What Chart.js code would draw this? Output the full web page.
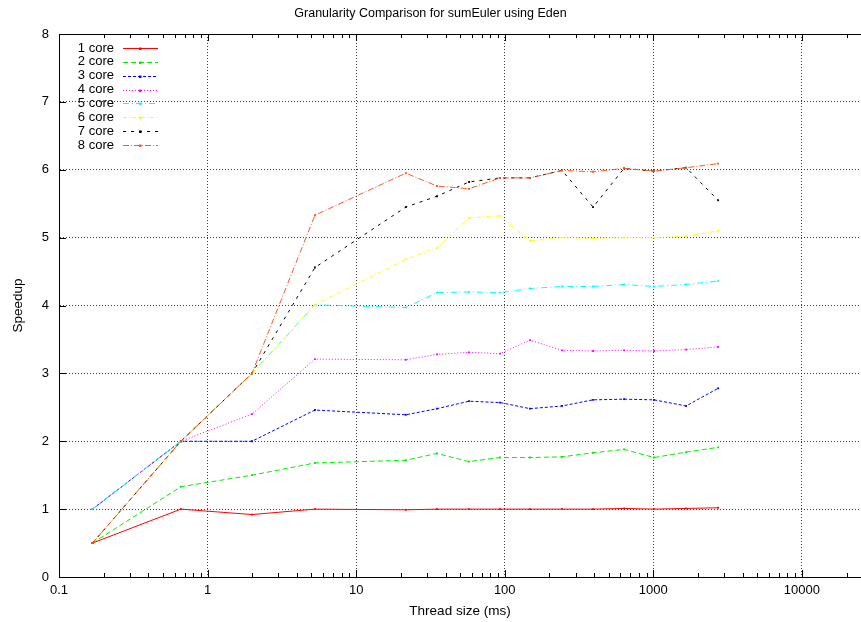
<!DOCTYPE html>
<html><head><meta charset="utf-8">
<script src="https://cdn.jsdelivr.net/npm/chart.js@4/dist/chart.umd.min.js"></script>
<style>html,body{margin:0;padding:0;background:#fff;overflow:hidden}#wrap{width:861px;height:622px;position:relative}</style>
</head><body><div id="wrap"><canvas id="c" width="861" height="622"></canvas></div>
<script>
// ---- data ----
const threadSizes = [0.168, 0.661, 1.99, 5.28, 21.6, 35.0, 57.5, 93.0, 148, 243, 393, 636, 1012, 1663, 2731];
const core1 = [0.50, 1.00, 0.92, 1.00, 0.99, 1.00, 1.00, 1.00, 1.00, 1.00, 1.00, 1.01, 1.00, 1.01, 1.02];
const core2 = [0.50, 1.33, 1.50, 1.68, 1.72, 1.82, 1.70, 1.76, 1.76, 1.77, 1.83, 1.88, 1.76, 1.84, 1.91];
const core3 = [1.00, 2.00, 2.00, 2.46, 2.39, 2.48, 2.59, 2.57, 2.48, 2.52, 2.61, 2.62, 2.61, 2.52, 2.78];
const core4 = [1.00, 2.00, 2.40, 3.21, 3.20, 3.28, 3.31, 3.29, 3.49, 3.34, 3.33, 3.34, 3.33, 3.35, 3.39];
const core5 = [1.00, 2.00, 3.00, 4.01, 3.97, 4.19, 4.20, 4.19, 4.25, 4.28, 4.28, 4.31, 4.28, 4.31, 4.36];
const core6 = [0.50, 2.00, 3.00, 4.01, 4.68, 4.85, 5.29, 5.32, 4.95, 5.00, 4.99, 5.00, 5.00, 5.02, 5.10];
const core7 = [0.50, 2.00, 3.00, 4.56, 5.45, 5.61, 5.82, 5.88, 5.88, 5.99, 5.45, 6.02, 5.98, 6.03, 5.55];
const core8 = [0.50, 2.00, 3.00, 5.33, 5.95, 5.76, 5.72, 5.88, 5.88, 5.99, 5.97, 6.02, 5.98, 6.03, 6.09];
const seriesLabels = ['1 core', '2 core', '3 core', '4 core', '5 core', '6 core', '7 core', '8 core'];
const xTickValues = [0.1, 1, 10, 100, 1000, 10000];
const yTickValues = [0, 1, 2, 3, 4, 5, 6, 7, 8];
const titleText = 'Granularity Comparison for sumEuler using Eden';
const xTitle = 'Thread size (ms)';
const yTitle = 'Speedup';

// ---- styles ----
const seriesValues = [core1, core2, core3, core4, core5, core6, core7, core8];
const colors = ['#ff0000', '#00ee00', '#0000ff', '#ff00ff', '#00ffff', '#ffff00', '#000000', '#ff5522'];
const dashes = [[], [5, 3], [3, 2], [1, 2], [6, 3, 1, 3], [4, 2, 1, 2], [3, 5], [6, 2, 1, 2]];
const FONT = 'Liberation Sans, Arial, sans-serif';

const datasets = seriesValues.map((vals, i) => ({
  label: seriesLabels[i],
  data: vals.map((v, j) => ({x: threadSizes[j], y: v})),
  order: seriesValues.length - 1 - i,
  borderColor: colors[i],
  backgroundColor: colors[i],
  borderWidth: 1,
  borderDash: dashes[i],
  pointStyle: 'rect',
  pointRadius: 1.3,
  pointBorderWidth: 0,
  pointBackgroundColor: colors[i],
  tension: 0,
  fill: false
}));

const decorPlugin = {
  id: 'decor',
  afterDraw(chart) {
    const {ctx, chartArea: a, scales: {x, y}} = chart;
    ctx.save();
    ctx.strokeStyle = '#000';
    ctx.lineWidth = 1;
    ctx.setLineDash([]);
    // top border
    ctx.beginPath();
    ctx.moveTo(a.left, Math.round(a.top) + 0.5);
    ctx.lineTo(a.right, Math.round(a.top) + 0.5);
    ctx.stroke();
    // x ticks (inward, bottom and top)
    ctx.beginPath();
    for (let d = 0.1; d <= 100000; d *= 10) {
      for (let m = 1; m <= 9; m++) {
        const v = d * m;
        if (v < x.min * 0.999 || v > x.max) continue;
        const px = Math.round(x.getPixelForValue(v)) + 0.5;
        const len = m === 1 ? 7 : 4;
        ctx.moveTo(px, a.bottom); ctx.lineTo(px, a.bottom - len);
        ctx.moveTo(px, a.top); ctx.lineTo(px, a.top + len);
      }
    }
    // y ticks
    yTickValues.forEach(v => {
      const py = Math.round(y.getPixelForValue(v)) + 0.5;
      ctx.moveTo(a.left, py); ctx.lineTo(a.left + 7, py);
    });
    ctx.stroke();
    // legend
    ctx.font = '13px ' + FONT;
    ctx.textAlign = 'right';
    ctx.textBaseline = 'middle';
    seriesLabels.forEach((lab, i) => {
      const yy = 48 + i * 13.86;
      ctx.fillStyle = '#000';
      ctx.fillText(lab, 114, yy);
      ctx.strokeStyle = colors[i];
      ctx.setLineDash(dashes[i]);
      ctx.beginPath();
      ctx.moveTo(123, Math.round(yy) + 0.5);
      ctx.lineTo(158, Math.round(yy) + 0.5);
      ctx.stroke();
      ctx.setLineDash([]);
      ctx.fillStyle = colors[i];
      ctx.fillRect(139, Math.round(yy) - 0.5, 2.5, 2.5);
    });
    ctx.restore();
  }
};

new Chart(document.getElementById('c'), {
  type: 'line',
  data: {datasets},
  options: {
    responsive: false,
    animation: false,
    devicePixelRatio: 1,
    layout: {padding: 0, autoPadding: false},
    plugins: {
      legend: {display: false},
      tooltip: {enabled: false},
      title: {
        display: true, text: titleText, color: '#000',
        font: {family: FONT, size: 12.5, weight: 'normal'},
        padding: {top: 6, bottom: 13}
      }
    },
    scales: {
      x: {
        type: 'logarithmic',
        min: 0.1, max: 25000,
        afterBuildTicks: s => { s.ticks = xTickValues.map(v => ({value: v})); },
        afterFit: s => { s.height = 45; s.paddingLeft = 0; s.paddingRight = 0; },
        ticks: {
          color: '#000', padding: 6, maxRotation: 0, autoSkip: false,
          font: {family: FONT, size: 13},
          callback: v => String(v)
        },
        grid: {drawTicks: false, color: 'rgba(0,0,0,0.75)', lineWidth: 1},
        border: {display: true, color: '#000', width: 1, dash: [1, 2]},
        title: {display: true, text: xTitle, color: '#000', font: {family: FONT, size: 13.5}, padding: {top: 0, bottom: 3}}
      },
      y: {
        type: 'linear',
        min: 0, max: 8,
        afterBuildTicks: s => { s.ticks = yTickValues.map(v => ({value: v})); },
        afterFit: s => { s.width = 59; },
        ticks: {color: '#000', padding: 10, font: {family: FONT, size: 13}},
        grid: {drawTicks: false, color: 'rgba(0,0,0,0.75)', lineWidth: 1},
        border: {display: true, color: '#000', width: 1, dash: [1, 2]},
        title: {display: true, text: yTitle, color: '#000', font: {family: FONT, size: 13.5}, padding: {top: 10, bottom: 0}}
      }
    }
  },
  plugins: [decorPlugin]
});
</script>
</body></html>
